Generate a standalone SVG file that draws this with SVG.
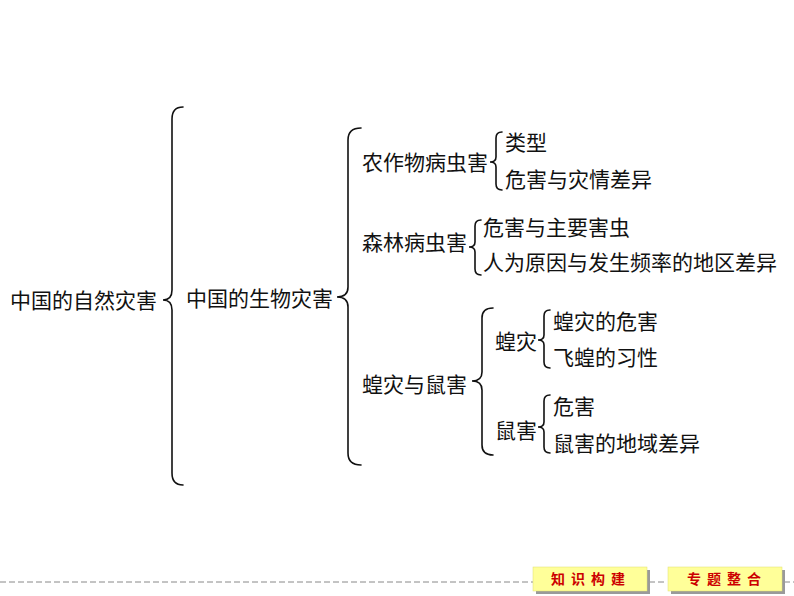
<svg xmlns="http://www.w3.org/2000/svg" width="794" height="596" viewBox="0 0 794 596">
<style>
.t{font-family:"Noto Sans CJK SC","Liberation Serif",sans-serif;font-size:21px;fill:#111}
.b{fill:none;stroke:#111;stroke-width:1.6;stroke-linecap:round}
.btn{fill:#ffff99;stroke:#e0e070;stroke-width:0.5}
.sh{fill:#9a9a9a}
.bt{font-family:"Noto Sans CJK SC","Liberation Sans",sans-serif;font-size:14px;font-weight:bold;fill:#cc0000;text-anchor:middle}
.dash{stroke:#888;stroke-width:1;stroke-dasharray:6 3}
</style>
<g id="connectors">
<path class="b" d="M183,107 Q172,107 172,119 L172,290 Q172,300 163,300 Q172,300 172,310 L172,473 Q172,485 183,485"/>
<path class="b" d="M361,128 Q348,128 348,140 L348,287 Q348,297 337,297 Q348,297 348,307 L348,453 Q348,465 361,465"/>
<path class="b" d="M502,132 Q496,132 496,138 L496,157 Q496,162 490,162 Q496,162 496,167 L496,184 Q496,190 502,190"/>
<path class="b" d="M481,220 Q475,220 475,226 L475,242 Q475,247 469,247 Q475,247 475,252 L475,269 Q475,275 481,275"/>
<path class="b" d="M493,308 Q482,308 482,318 L482,372 Q482,381 472,381 Q482,381 482,390 L482,445 Q482,455 493,455"/>
<path class="b" d="M550,310 Q544,310 544,316 L544,335 Q544,340 538,340 Q544,340 544,345 L544,362 Q544,368 550,368"/>
<path class="b" d="M550,395 Q544,395 544,401 L544,422 Q544,427 538,427 Q544,427 544,432 L544,447 Q544,453 550,453"/>
</g>
<g id="n-root"><text class="t" x="10" y="308">中国的自然灾害</text></g>
<g id="n-bio"><text class="t" x="186" y="306">中国的生物灾害</text></g>
<g id="n-crop"><text class="t" x="362" y="170">农作物病虫害</text></g>
<g id="n-crop-1"><text class="t" x="505" y="150">类型</text></g>
<g id="n-crop-2"><text class="t" x="505" y="187">危害与灾情差异</text></g>
<g id="n-forest"><text class="t" x="362" y="250">森林病虫害</text></g>
<g id="n-forest-1"><text class="t" x="483" y="235">危害与主要害虫</text></g>
<g id="n-forest-2"><text class="t" x="483" y="270">人为原因与发生频率的地区差异</text></g>
<g id="n-locust-rat"><text class="t" x="362" y="392">蝗灾与鼠害</text></g>
<g id="n-locust"><text class="t" x="495" y="349">蝗灾</text></g>
<g id="n-locust-1"><text class="t" x="553" y="329">蝗灾的危害</text></g>
<g id="n-locust-2"><text class="t" x="553" y="365">飞蝗的习性</text></g>
<g id="n-rat"><text class="t" x="495" y="438">鼠害</text></g>
<g id="n-rat-1"><text class="t" x="553" y="414">危害</text></g>
<g id="n-rat-2"><text class="t" x="553" y="451">鼠害的地域差异</text></g>
<g id="footer">
<line class="dash" x1="0" y1="582" x2="533" y2="582"/>
<line class="dash" x1="649" y1="582" x2="667" y2="582"/>
<line class="dash" x1="784" y1="582" x2="794" y2="582"/>
<rect class="sh" x="536" y="570" width="114" height="24"/>
<rect class="btn" x="533" y="567" width="114" height="24"/>
<text class="bt" x="591" y="584" letter-spacing="6">知识构建</text>
<rect class="sh" x="671" y="570" width="114" height="24"/>
<rect class="btn" x="668" y="567" width="114" height="24"/>
<text class="bt" x="727" y="584" letter-spacing="6">专题整合</text>
</g>
</svg>
